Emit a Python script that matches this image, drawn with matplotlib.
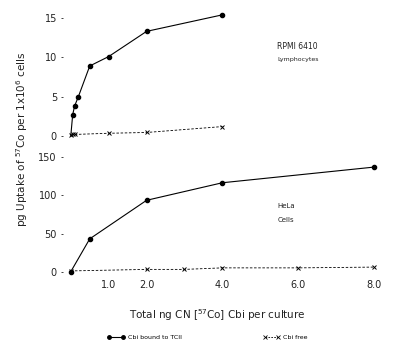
import numpy as np
import matplotlib
matplotlib.use("Agg")
import matplotlib.pyplot as plt
from matplotlib.lines import Line2D

# RPMI 6410 lymphocytes
lym_x = [0.0, 0.05, 0.1, 0.2, 0.5, 1.0, 2.0, 4.0]
lym_bound = [0.0, 2.7, 3.8, 5.0, 8.9, 10.1, 13.3, 15.4]
lym_free_x = [0.0, 0.05, 0.1, 1.0, 2.0, 4.0]
lym_free = [0.1, 0.2, 0.2, 0.35, 0.45, 1.2]

# HeLa cells
hela_x = [0.0, 0.5, 2.0, 4.0, 8.0]
hela_bound = [0.0, 43, 93.5, 116.5, 137]
hela_free_x = [0.0, 2.0, 3.0, 4.0, 6.0, 8.0]
hela_free = [1, 3, 3, 5, 5, 6]

xticks = [1.0, 2.0, 4.0, 6.0, 8.0]
top_yticks = [0, 5, 10, 15]
bot_yticks = [0, 50, 100, 150]

plt.rcParams["font.family"] = "DejaVu Sans"
fig = plt.figure(figsize=(3.95, 3.49), dpi=100)
ax1 = fig.add_axes([0.16, 0.599, 0.806, 0.372])
ax2 = fig.add_axes([0.16, 0.2106, 0.806, 0.35])

for ax in (ax1, ax2):
    for s in ax.spines.values():
        s.set_visible(False)
    ax.set_xlim(-0.2, 8.2)
    ax.tick_params(axis="y", length=1.5, width=0.6, pad=3, labelsize=7, colors="#222")

# top panel
ax1.plot(lym_x, lym_bound, "-", color="black", lw=0.8)
ax1.plot(lym_x[1:], lym_bound[1:], "o", color="black", ms=3)
ax1.plot(lym_free_x, lym_free, "--", color="black", lw=0.6, marker="x", ms=2.5, mew=0.7, dashes=(3, 2))
ax1.set_ylim(-0.5, 16)
ax1.set_yticks(top_yticks)
ax1.set_xticks([])
ax1.text(5.45, 11.1, "RPMI 6410", fontsize=5.5, color="#222")
ax1.text(5.45, 9.5, "Lymphocytes", fontsize=4.5, color="#222")

# bottom panel
ax2.plot(hela_x, hela_bound, "-", color="black", lw=0.8)
ax2.plot(hela_x, hela_bound, "o", color="black", ms=3)
ax2.plot(hela_free_x, hela_free, "--", color="black", lw=0.6, marker="x", ms=2.5, mew=0.7, dashes=(3, 2))
ax2.set_ylim(-5, 155)
ax2.set_yticks(bot_yticks)
ax2.set_xticks(xticks)
ax2.set_xticklabels([f"{t:.1f}" for t in xticks])
ax2.tick_params(axis="x", length=0, pad=3, labelsize=7, colors="#222")
ax2.text(5.45, 83, "HeLa", fontsize=5, color="#222")
ax2.text(5.45, 65, "Cells", fontsize=5, color="#222")

fig.text(0.055, 0.6, r"pg Uptake of $^{57}$Co per 1x10$^{6}$ cells", rotation=90,
         ha="center", va="center", fontsize=7.5, color="#222")
fig.text(0.55, 0.097, r"Total ng CN [$^{57}$Co] Cbi per culture", ha="center", va="center",
         fontsize=7.5, color="#222")

handles = [Line2D([], [], color="black", lw=0.8, marker="o", ms=2.5),
           Line2D([], [], color="black", lw=0.6, ls="--", marker="x", ms=2.5, mew=0.6, dashes=(2, 1.5))]
fig.legend(handles, ["Cbi bound to TCII", "Cbi free"], loc="center", bbox_to_anchor=(0.525, 0.034),
           ncol=2, frameon=False, fontsize=4.5, numpoints=2, handlelength=2.8, columnspacing=13,
           handletextpad=0.4)

fig.savefig("out.png")
